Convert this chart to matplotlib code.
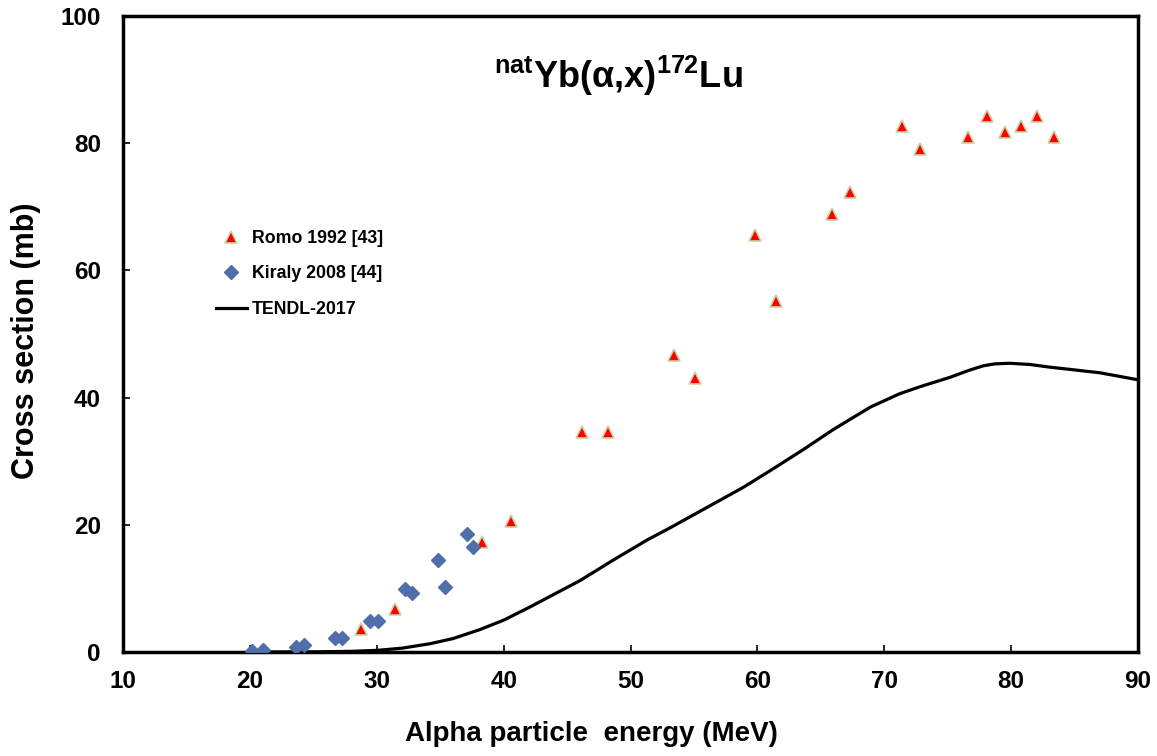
import matplotlib
matplotlib.use("Agg")
import matplotlib.pyplot as plt
from matplotlib.lines import Line2D

# ---- data ----
romo_x = [28.75, 31.4, 38.3, 40.6, 46.2, 48.2, 53.4, 55.1, 59.8, 61.5,
          65.9, 67.3, 71.4, 72.8, 76.6, 78.1, 79.5, 80.8, 82.0, 83.4]
romo_y = [3.6, 6.8, 17.3, 20.6, 34.6, 34.6, 46.7, 43.1, 65.6, 55.2,
          68.9, 72.3, 82.7, 79.1, 81.0, 84.3, 81.8, 82.7, 84.3, 81.0]

kiraly_x = [20.2, 21.0, 23.6, 24.3, 26.7, 27.3, 29.5, 30.1, 32.2, 32.8,
            34.8, 35.4, 37.1, 37.6]
kiraly_y = [0.2, 0.3, 0.8, 1.1, 2.2, 2.2, 4.9, 4.9, 9.9, 9.3,
            14.5, 10.2, 18.6, 16.5]

tendl_x = [20, 25, 28, 30, 32, 34.2, 36, 38.1, 40, 42.1, 44, 46, 48.6, 51.3,
           53.1, 56, 58.9, 61, 63.6, 66, 68.9, 71.2, 72.8, 75.2, 76.7, 77.8,
           78.7, 79.9, 81.5, 83, 87, 90]
tendl_y = [0.0, 0.02, 0.1, 0.25, 0.6, 1.3, 2.1, 3.5, 5.0, 7.1, 9.1, 11.2,
           14.4, 17.6, 19.5, 22.7, 25.9, 28.5, 31.8, 35.0, 38.5, 40.6, 41.7,
           43.2, 44.3, 45.0, 45.3, 45.4, 45.2, 44.8, 43.9, 42.8]

xticks = [10, 20, 30, 40, 50, 60, 70, 80, 90]
yticks = [0, 20, 40, 60, 80, 100]

# ---- fonts ----
FONT = "Liberation Sans"
plt.rcParams["font.family"] = [FONT, "DejaVu Sans"]
plt.rcParams["font.weight"] = "bold"
plt.rcParams["mathtext.fontset"] = "custom"
plt.rcParams["mathtext.rm"] = FONT + ":bold"
plt.rcParams["mathtext.bf"] = FONT + ":bold"
plt.rcParams["mathtext.it"] = FONT + ":bold"

fig = plt.figure(figsize=(11.57, 7.56), dpi=100)
ax = fig.add_axes([0.1063, 0.1376, 0.8773, 0.8412])

ax.plot(tendl_x, tendl_y, color="black", lw=2.3, zorder=2,
        solid_joinstyle="round")
ax.plot(romo_x, romo_y, linestyle="none", marker="^", ms=9,
        markerfacecolor="#ff0000", markeredgecolor="#c8d6a4", markeredgewidth=1.2, zorder=3)
ax.plot(kiraly_x, kiraly_y, linestyle="none", marker="D", ms=7.5,
        markerfacecolor="#4f6eaa", markeredgecolor="#4f6eaa", zorder=3)

ax.set_xlim(10, 90)
ax.set_ylim(0, 100)
ax.set_xticks(xticks)
ax.set_yticks(yticks)
ax.tick_params(direction="in", length=5, width=1.2, labelsize=17.5)
ax.tick_params(axis="x", pad=13)
ax.tick_params(axis="y", pad=16)
for lbl in ax.get_xticklabels() + ax.get_yticklabels():
    lbl.set_fontweight("bold")
for sp in ax.spines.values():
    sp.set_linewidth(2.5)

ax.set_xlabel("Alpha particle  energy (MeV)", fontsize=20, fontweight="bold")
ax.set_ylabel("Cross section (mb)", fontsize=22, fontweight="bold")
ax.xaxis.set_label_coords(0.462, -0.108)
ax.yaxis.set_label_coords(-0.081, 0.49)

ax.text(0.488, 0.906, r"$^{\mathrm{nat}}$Yb(α,x)$^{\mathrm{172}}$Lu",
        transform=ax.transAxes, ha="center", va="center",
        fontsize=26, fontweight="bold")

handles = [
    Line2D([], [], linestyle="none", marker="^", ms=9, markerfacecolor="#ff0000",
           markeredgecolor="#c8d6a4", markeredgewidth=1.2),
    Line2D([], [], linestyle="none", marker="D", ms=7.5, markerfacecolor="#4f6eaa",
           markeredgecolor="#4f6eaa"),
    Line2D([], [], color="black", lw=2.3),
]
labels = ["Romo 1992 [43]", "Kiraly 2008 [44]", "TENDL-2017"]
leg = ax.legend(handles, labels, loc="upper left", bbox_to_anchor=(0.085, 0.675),
                frameon=False, fontsize=12.8, handlelength=1.7, handletextpad=0.3,
                labelspacing=1.05, borderaxespad=0)
for t in leg.get_texts():
    t.set_fontweight("bold")

fig.savefig("out.png", dpi=100)
